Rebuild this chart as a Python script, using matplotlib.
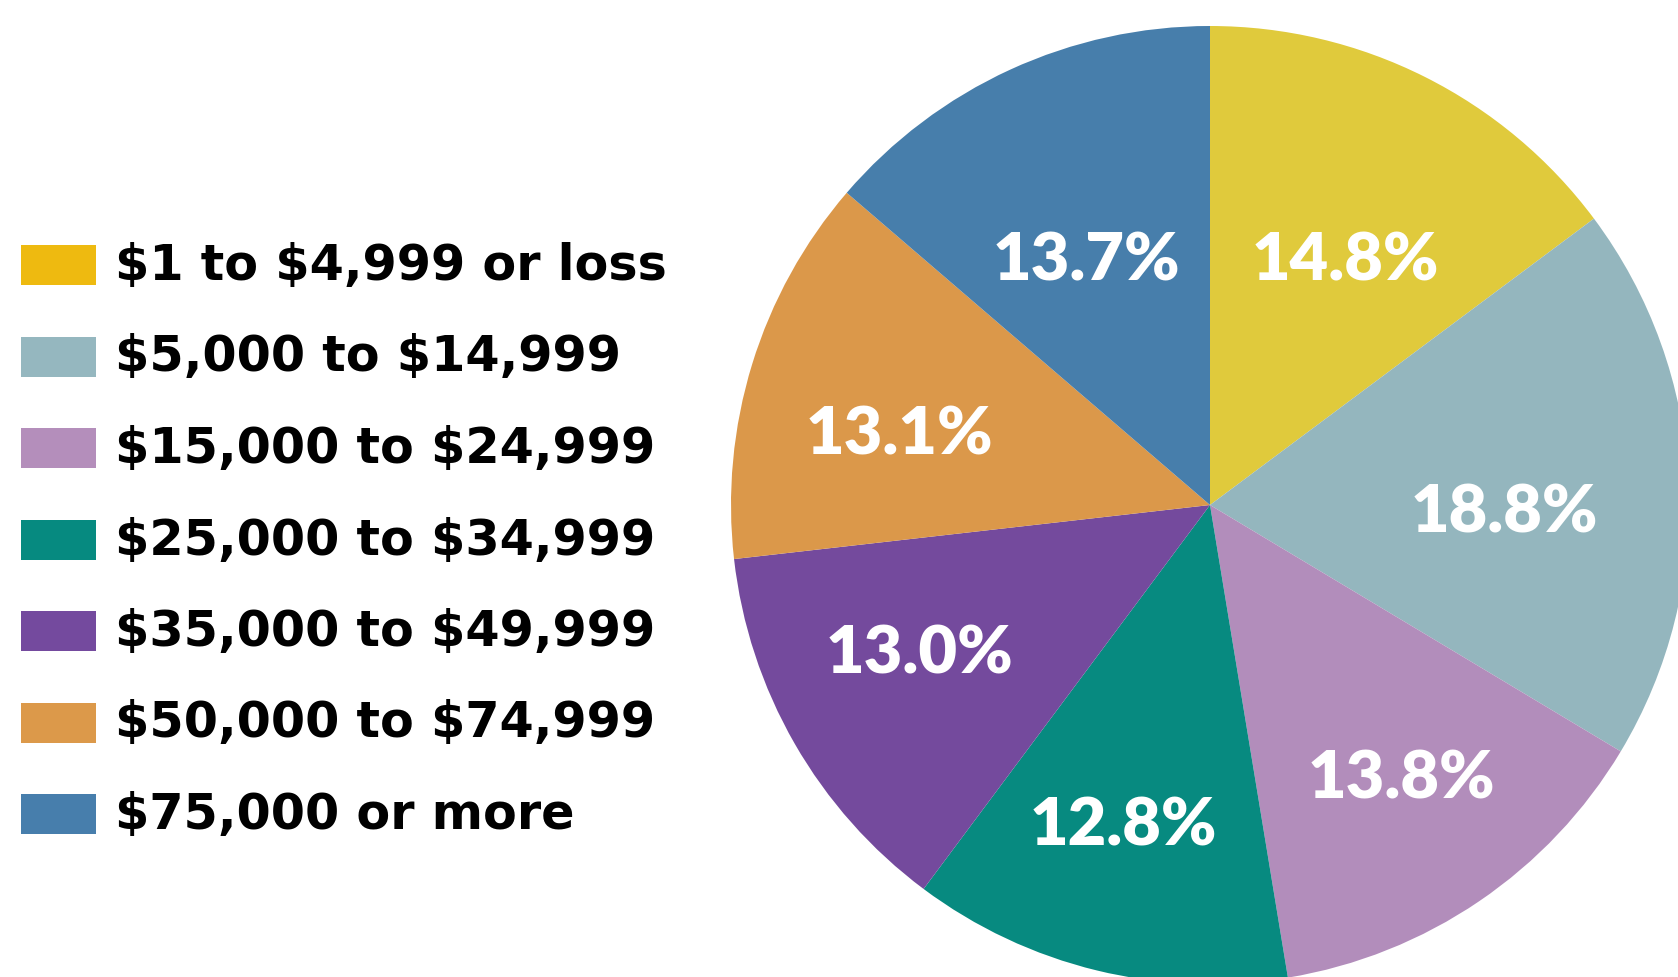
import numpy as np
import matplotlib
matplotlib.use('Agg')
import matplotlib.pyplot as plt
from matplotlib.patches import Rectangle

plt.rcParams['font.family'] = ['Lato', 'DejaVu Sans']
plt.rcParams['text.parse_math'] = False

# data
categories = ['$1 to $4,999 or loss', '$5,000 to $14,999', '$15,000 to $24,999',
              '$25,000 to $34,999', '$35,000 to $49,999', '$50,000 to $74,999',
              '$75,000 or more']
shares = [14.8, 18.8, 13.8, 12.8, 13.0, 13.1, 13.7]
pie_colors = ['#E0CA3C', '#94B6BE', '#B28DBB', '#078A80', '#744A9D', '#DB984A', '#477EAB']
legend_colors = ['#EEBA10', '#95B7BF', '#B48EBB', '#068A80', '#744A9E', '#DC994A', '#477EAC']
# label placement inside each wedge (in pie-radius units)
label_xy = [(0.282, 0.512), (0.614, -0.015), (0.400, -0.570), (-0.180, -0.668),
            (-0.607, -0.310), (-0.649, 0.148), (-0.258, 0.512)]

W, H = 1678, 978
fig = plt.figure(figsize=(W / 100, H / 100), dpi=100)

# pie axes: centre (1210, 506) px from top-left, radius 479 px
cx, cy, r = 1210, 506, 479
ax = fig.add_axes([(cx - r) / W, (H - cy - r) / H, 2 * r / W, 2 * r / H])
wedges, _ = ax.pie(shares, colors=pie_colors, startangle=90, counterclock=False,
                   radius=1, wedgeprops=dict(linewidth=0))
for w in wedges:
    w.set_clip_on(False)
for v, (x, y) in zip(shares, label_xy):
    ax.text(x, y, f'{v:.1f}%', ha='center', va='center',
            color='white', fontsize=48, fontweight='heavy')
ax.set_xlim(-1, 1)
ax.set_ylim(-1, 1)
ax.axis('off')

# legend
row0, step = 266, 91.5
for i, (lab, c) in enumerate(zip(categories, legend_colors)):
    yc = row0 + i * step
    fig.patches.append(Rectangle((21 / W, (H - yc - 20) / H), 75 / W, 40 / H,
                                 transform=fig.transFigure, facecolor=c, edgecolor='none'))
    fig.text(115 / W, (H - yc) / H, lab, ha='left', va='center', fontsize=35.5,
             fontweight='bold', color='black', family='DejaVu Sans')

fig.savefig('out.png', dpi=100, facecolor='white')
